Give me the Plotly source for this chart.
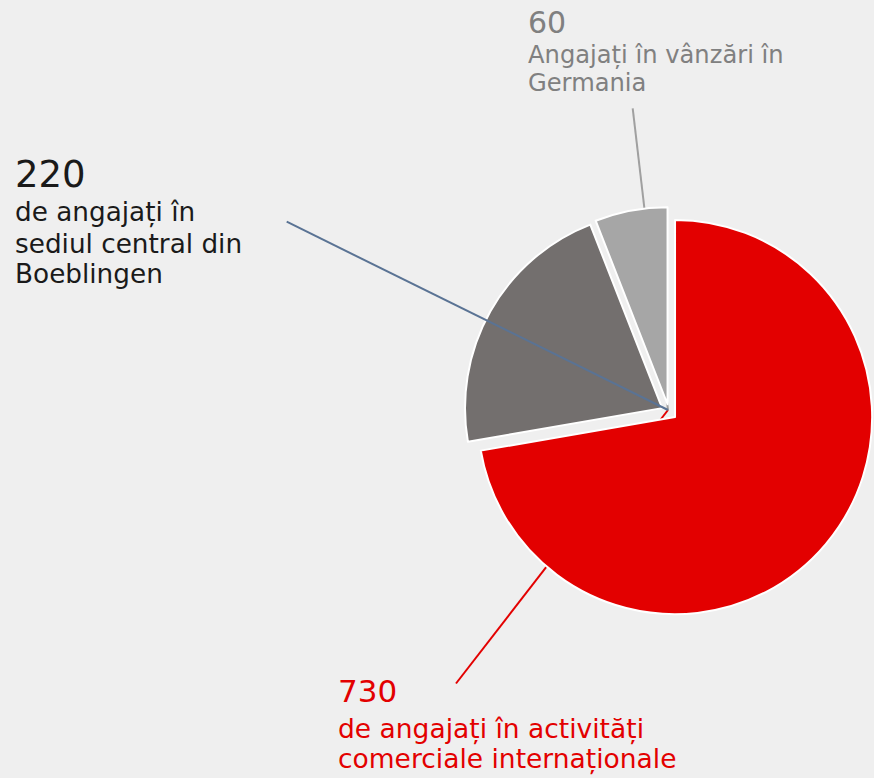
import plotly.graph_objects as go

# ---- data ----
categories = ["activități comerciale internaționale", "sediul central din Boeblingen", "vânzări în Germania"]
values = [730, 220, 60]
slice_colors = ["#e30000", "#736f6e", "#a6a6a6"]

label_numbers = ["730", "220", "60"]
label_texts = [
    ["de angajați în activități", "comerciale internaționale"],
    ["de angajați în", "sediul central din", "Boeblingen"],
    ["Angajați în vânzări în", "Germania"],
]
label_colors = ["#e30000", "#1a1a1a", "#808080"]
line_colors = ["#e30000", "#5a7394", "#a0a0a0"]

# ---- layout constants (pixels) ----
W, H = 874, 778
CX, CY, HALF = 669, 412, 205          # pie domain centre / half size
PULL = 0.04
FONT = "DejaVu Sans, Verdana, sans-serif"

# label layout: (x_left, number baseline, number size, body baselines, body size)
label_layout = [
    (336, 701.7, 31, [738, 768.5], 26.5),
    (13, 187, 37, [221.7, 253, 283.5], 26.3),
    (526, 33.3, 30, [63.3, 91.7], 24.2),
]
# leader line outer end points
line_starts = [(456, 683.5), (286.7, 221.7), (632.7, 108.3)]
line_layers = ["below", "above", "below"]


def px(x):
    return x / W


def py(y):
    return 1 - y / H


fig = go.Figure(
    go.Pie(
        labels=categories,
        values=values,
        sort=False,
        direction="clockwise",
        rotation=0,
        pull=[PULL] * len(values),
        marker=dict(colors=slice_colors, line=dict(color="white", width=2)),
        textinfo="none",
        hoverinfo="label+value",
        showlegend=False,
        domain=dict(x=[px(CX - HALF), px(CX + HALF)], y=[py(CY + HALF), py(CY - HALF)]),
    )
)

annotations = []
for num, texts, color, (xl, nb, ns, bbs, bs) in zip(label_numbers, label_texts, label_colors, label_layout):
    annotations.append(dict(
        x=px(xl), y=py(nb - 0.35 * ns), xref="paper", yref="paper",
        xanchor="left", yanchor="middle", showarrow=False, text=num,
        font=dict(family=FONT, size=ns, color=color),
    ))
    for t, b in zip(texts, bbs):
        annotations.append(dict(
            x=px(xl), y=py(b - 0.35 * bs), xref="paper", yref="paper",
            xanchor="left", yanchor="middle", showarrow=False, text=t,
            font=dict(family=FONT, size=bs, color=color),
        ))

shapes = []
for (sx, sy), c, layer in zip(line_starts, line_colors, line_layers):
    shapes.append(dict(
        type="line", xref="paper", yref="paper",
        x0=px(sx), y0=py(sy), x1=px(CX - 1), y1=py(CY - 2),
        line=dict(color=c, width=2), layer=layer,
    ))

fig.update_layout(
    width=W, height=H,
    margin=dict(l=0, r=0, t=0, b=0),
    paper_bgcolor="#efefef",
    plot_bgcolor="#efefef",
    annotations=annotations,
    shapes=shapes,
    font=dict(family=FONT),
)

fig.write_html(
    "out.html",
    config={"displayModeBar": False},
    post_script="document.body.style.margin='0';document.body.style.overflow='hidden';"
                "document.body.style.background='#efefef';",
)
